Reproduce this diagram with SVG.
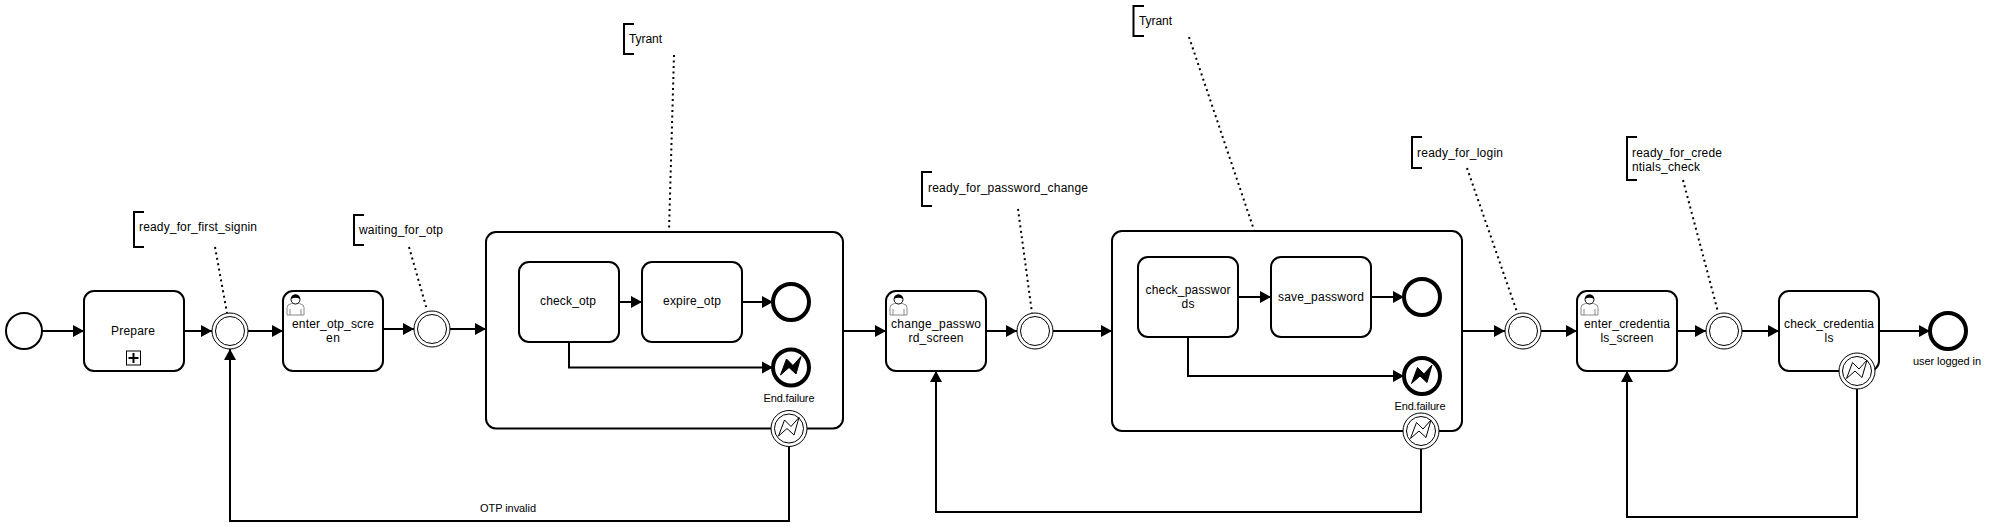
<svg xmlns="http://www.w3.org/2000/svg" width="1990" height="527" viewBox="0 0 1990 527">
<style>
text{font-family:"Liberation Sans",Arial,sans-serif;font-size:12px;fill:#000}
.s{font-size:11px}
.m{text-anchor:middle}
.b{fill:#fff;stroke:#000;stroke-width:2}
.f{fill:none;stroke:#000;stroke-width:2}
.fl{fill:none;stroke:#000;stroke-width:2;marker-end:url(#a)}
.d{fill:none;stroke:#000;stroke-width:2;stroke-dasharray:2 3.500}
.e{fill:#fff;stroke:#000;stroke-width:4}
.t{fill:#fff;stroke:#000;stroke-width:1}
.g{fill:#000;stroke:#000;stroke-width:1}
.o{fill:none;stroke:#000;stroke-width:1}
</style>
<defs>
<marker id="a" markerUnits="userSpaceOnUse" markerWidth="12" markerHeight="14" refX="11" refY="7" orient="auto"><path d="M0 1L11 7L0 13Z" fill="#000"/></marker>
<g id="user"><path d="M0.500 21V13.500Q0.500 10.500 5 9.500L9 8.500L13 9.500Q17.500 10.500 17.500 13.500V21Z" fill="#fff" stroke="#888" stroke-width="1"/><path d="M3.500 21V15M14.500 21V15" stroke="#888" fill="none"/><circle cx="9" cy="5.500" r="4.500" fill="#fff" stroke="#000"/><path d="M4.500 5Q4.500 0.500 9 0.500Q13.500 0.500 13.500 5Q9 2.500 4.500 5Z" fill="#000"/></g>
<path id="bolt" d="M-10.500 7.500L-4.500 -8.500L2 -2L10 -11L5 6.500L-2 0Z"/>
</defs>
<g id="ann1"><path class="f" d="M144 212H134V247H144"/><text x="139" y="231" textLength="118">ready_for_first_signin</text></g>
<g id="ann2"><path class="f" d="M364 215H354V245H364"/><text x="359" y="234" textLength="84">waiting_for_otp</text></g>
<g id="ann3"><path class="f" d="M634 24H624V54H634"/><text x="629" y="43" textLength="33">Tyrant</text></g>
<g id="ann4"><path class="f" d="M932 172H922V206H932"/><text x="928" y="191.500" textLength="160">ready_for_password_change</text></g>
<g id="ann5"><path class="f" d="M1144 6H1133.500V36H1144"/><text x="1139" y="25" textLength="33">Tyrant</text></g>
<g id="ann6"><path class="f" d="M1422 137H1412V168H1422"/><text x="1417" y="157" textLength="86">ready_for_login</text></g>
<g id="ann7"><path class="f" d="M1637 137H1627V180H1637"/><text x="1632" y="157" textLength="90">ready_for_crede</text><text x="1632" y="171" textLength="68">ntials_check</text></g>
<g id="start"><circle class="b" cx="24" cy="331" r="18"/></g>
<g id="prepare"><rect class="b" x="84" y="291" width="100" height="80" rx="10"/><text class="m" x="133" y="335" textLength="44">Prepare</text><rect class="t" x="126.500" y="351" width="14" height="14"/><path d="M128.500 358H138.500M133.500 353V363" stroke="#000" stroke-width="2"/></g>
<g id="ev1"><circle class="t" cx="230" cy="331" r="18"/><circle class="o" cx="230" cy="331" r="14.500"/></g>
<g id="enter_otp"><rect class="b" x="283" y="291" width="100" height="80" rx="10"/><use href="#user" x="286.500" y="294"/><text class="m" x="333" y="328" textLength="82">enter_otp_scre</text><text class="m" x="333" y="342" textLength="14">en</text></g>
<g id="ev2"><circle class="t" cx="432" cy="329" r="18"/><circle class="o" cx="432" cy="329" r="14.500"/></g>
<g id="sub1"><rect class="b" x="486" y="232" width="357" height="196.500" rx="10"/>
<rect class="b" x="519" y="262" width="100" height="80" rx="10"/><text class="m" x="568" y="305" textLength="56">check_otp</text>
<rect class="b" x="642" y="262" width="100" height="80" rx="10"/><text class="m" x="692" y="305" textLength="58">expire_otp</text>
<circle class="e" cx="791" cy="302" r="18"/>
<circle class="e" cx="791" cy="367.500" r="18"/><use href="#bolt" x="791" y="367.500" class="g"/>
<text class="m s" x="789" y="402" textLength="51">End.failure</text>
<circle class="t" cx="789" cy="428.500" r="18"/><circle class="o" cx="789" cy="428.500" r="14.500"/><use href="#bolt" x="789" y="428.500" fill="none" stroke="#000"/></g>
<g id="change"><rect class="b" x="886" y="291" width="100" height="80" rx="10"/><use href="#user" x="889.500" y="294"/><text class="m" x="936" y="328" textLength="90">change_passwo</text><text class="m" x="936" y="342" textLength="55">rd_screen</text></g>
<g id="ev3"><circle class="t" cx="1035" cy="331" r="18"/><circle class="o" cx="1035" cy="331" r="14.500"/></g>
<g id="sub2"><rect class="b" x="1112" y="231" width="350" height="200" rx="10"/>
<rect class="b" x="1138" y="257" width="100" height="80" rx="10"/><text class="m" x="1188" y="294" textLength="85">check_passwor</text><text class="m" x="1188" y="308" textLength="13">ds</text>
<rect class="b" x="1271" y="257" width="100" height="80" rx="10"/><text class="m" x="1321" y="300.500" textLength="86">save_password</text>
<circle class="e" cx="1422" cy="297" r="18"/>
<circle class="e" cx="1422" cy="376" r="18"/><use href="#bolt" x="1422" y="376" class="g"/>
<text class="m s" x="1420" y="410" textLength="51">End.failure</text>
<circle class="t" cx="1421" cy="431" r="18"/><circle class="o" cx="1421" cy="431" r="14.500"/><use href="#bolt" x="1421" y="431" fill="none" stroke="#000"/></g>
<g id="ev4"><circle class="t" cx="1523" cy="331" r="18"/><circle class="o" cx="1523" cy="331" r="14.500"/></g>
<g id="enter_cred"><rect class="b" x="1577" y="291" width="100" height="80" rx="10"/><use href="#user" x="1580.500" y="294"/><text class="m" x="1627" y="328" textLength="86">enter_credentia</text><text class="m" x="1627" y="342" textLength="53">ls_screen</text></g>
<g id="ev5"><circle class="t" cx="1724" cy="331" r="18"/><circle class="o" cx="1724" cy="331" r="14.500"/></g>
<g id="check_cred"><rect class="b" x="1779" y="291" width="100" height="80" rx="10"/><text class="m" x="1829" y="328" textLength="90">check_credentia</text><text class="m" x="1829" y="342" textLength="9">ls</text>
<circle class="t" cx="1857" cy="371" r="18"/><circle class="o" cx="1857" cy="371" r="14.500"/><use href="#bolt" x="1857" y="371" fill="none" stroke="#000"/></g>
<g id="end"><circle class="e" cx="1948" cy="331" r="18"/><text class="m s" x="1947" y="365" textLength="68">user logged in</text></g>
<g id="otp_label"><text class="s" x="480" y="512" textLength="56">OTP invalid</text></g>
<g id="connectors">
<path class="fl" d="M42 331H84"/>
<path class="fl" d="M184 331H212"/>
<path class="fl" d="M248 331H283"/>
<path class="fl" d="M383 329H414"/>
<path class="fl" d="M450 329H486"/>
<path class="fl" d="M843 331H886"/>
<path class="fl" d="M986 331H1017"/>
<path class="fl" d="M1053 331H1112"/>
<path class="fl" d="M1462 331H1505"/>
<path class="fl" d="M1541 331H1577"/>
<path class="fl" d="M1677 331H1706"/>
<path class="fl" d="M1742 331H1779"/>
<path class="fl" d="M1879 331H1930"/>
<path class="fl" d="M619 302H642"/>
<path class="fl" d="M742 302H773"/>
<path class="fl" d="M569 342V367.500H773"/>
<path class="fl" d="M1238 297H1271"/>
<path class="fl" d="M1371 297H1404"/>
<path class="fl" d="M1188 337V376H1404"/>
<path class="fl" d="M789 447V521H230V349"/>
<path class="fl" d="M1421 449V512H936V371"/>
<path class="fl" d="M1857 389V517H1627V371"/>
<path class="d" d="M215 247L227 313"/>
<path class="d" d="M409 247L427 310"/>
<path class="d" d="M674 55L669 231"/>
<path class="d" d="M1018 209L1032 313"/>
<path class="d" d="M1189 37L1254 230"/>
<path class="d" d="M1467 168L1517 312"/>
<path class="d" d="M1683 180L1718 312"/>
</g>
</svg>
